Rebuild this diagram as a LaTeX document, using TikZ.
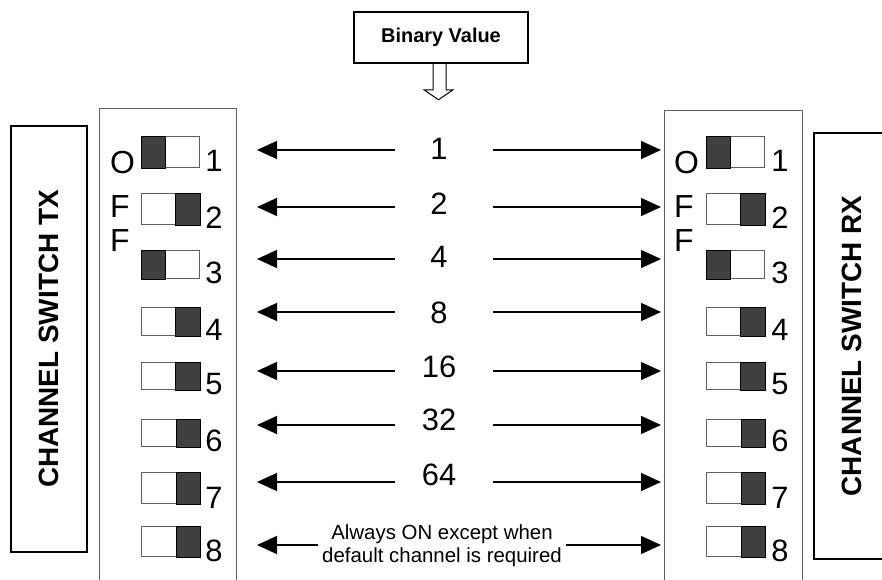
\documentclass[tikz,border=0pt]{standalone}
\usepackage{fontspec}
\setmainfont{Liberation Sans}
\usetikzlibrary{arrows.meta}
\definecolor{knob}{HTML}{404040}
\definecolor{frame}{HTML}{606060}

\begin{document}
\begin{tikzpicture}[x=1bp,y=-1bp,
    arr/.style={-{Triangle[length=20bp,width=18bp]},line width=1.4bp},
    box/.style={draw,line width=1.6bp,inner sep=0pt},
    switch/.style={draw=frame,line width=0.9bp,minimum width=58bp,inner sep=0pt,anchor=north west},
    digit/.style={font=\fontsize{31}{31}\selectfont,inner sep=0pt,anchor=base},
    letter/.style={font=\fontsize{32}{32}\selectfont,inner sep=0pt,anchor=base west}]
    \useasboundingbox (0,0) rectangle (882,580);
    \node[box,minimum width=174bp,minimum height=51bp,font=\bfseries\fontsize{20}{24}\selectfont] (bv) at (441,37.5) {Binary Value};
    \draw[line width=1bp] ([xshift=-8bp]bv.south) -- ++(0,26) -- ++(-9,0) -- ++(14.5,10) -- ++(14.5,-10) -- ++(-7,0) -- ++(0,-26);
    \node[box,rotate=90,minimum width=426bp,minimum height=76bp,font=\bfseries\fontsize{28}{28}\selectfont] (tx) at (49,339) {CHANNEL SWITCH TX};
    \node[box,rotate=90,minimum width=426bp,minimum height=76bp,font=\bfseries\fontsize{28}{28}\selectfont] (rx) at (852,346) {CHANNEL SWITCH RX};
    \draw[frame,line width=1bp] (99,580) |- (236,109) -- (236,580);
    \draw[frame,line width=1bp] (664,580) |- (802,111) -- (802,580);
    \node[letter] (offl1) at (110,174) {O};
    \node[letter] (offl2) at (110,218) {F};
    \node[letter] (offl3) at (110,252) {F};
    \node[letter] (offr1) at (674,174) {O};
    \node[letter] (offr2) at (674,218) {F};
    \node[letter] (offr3) at (674,252) {F};
    \foreach \i/\t/\h/\k/\s/\a/\lb in {1/136/31/west/24/150/160,2/193/31/east/-25/207/215,3/250/28/west/24/259/267,4/307/28/east/-25/312/323,5/362/27/east/-25/371/377,6/419/27/east/-24/425/430,7/472/31/east/-24/482/485,8/526/30/east/-24/545/0}{
      \node[switch,minimum height=\h bp] (sl\i) at (141,\t) {};
      \node[switch,minimum height=\h bp] (sr\i) at (706,\t) {};
      \filldraw[fill=knob,draw=black,line width=0.6bp] (sl\i.north \k) rectangle ([xshift=\s bp]sl\i.south \k);
      \filldraw[fill=knob,draw=black,line width=0.6bp] (sr\i.north \k) rectangle ([xshift=\s bp]sr\i.south \k);
      \node[digit] (nl\i) at (214,\t+\h+5) {\i};
      \node[digit] (nr\i) at (780,\t+\h+5) {\i};
      \coordinate (lt\i) at (257,\a);
      \coordinate (rt\i) at (661,\a);
      \ifnum\i<8
        \pgfmathtruncatemacro\v{2^(\i-1)}
        \node[digit] (v\i) at (439,\lb) {\v};
        \coordinate (ls\i) at (395,\a);
        \coordinate (rs\i) at (493,\a);
      \else
        \node[align=center,inner sep=0pt,font=\fontsize{20.5}{23}\selectfont] (v\i) at (442,546) {Always ON except when\\default channel is required};
        \coordinate (ls\i) at ([xshift=-4bp]v\i.west |- lt\i);
        \coordinate (rs\i) at ([xshift=4bp]v\i.east |- rt\i);
      \fi
      \draw[arr] (ls\i) -- (lt\i);
      \draw[arr] (rs\i) -- (rt\i);
    }
\end{tikzpicture}
\end{document}
